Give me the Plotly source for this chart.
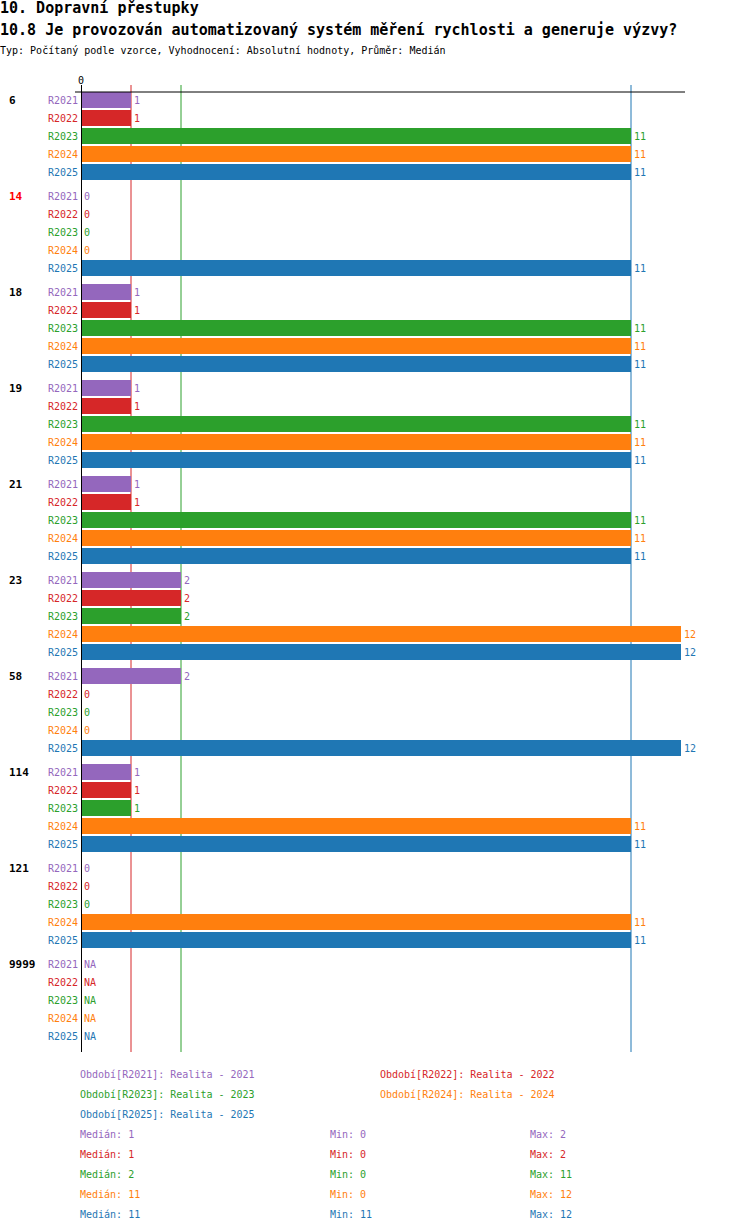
"""
10.8 - automatizovany system mereni rychlosti, grouped horizontal bars
"""
import plotly.graph_objects as go

groups = ["6", "14", "18", "19", "21", "23", "58", "114", "121", "9999"]
highlight = "14"

periods = ["R2021", "R2022", "R2023", "R2024", "R2025"]
period_names = ["Realita - 2021", "Realita - 2022", "Realita - 2023",
                "Realita - 2024", "Realita - 2025"]
colors = ["#9467bd", "#d62728", "#2ca02c", "#ff7f0e", "#1f77b4"]

r2021 = [1, 0, 1, 1, 1, 2, 2, 1, 0, None]
r2022 = [1, 0, 1, 1, 1, 2, 0, 1, 0, None]
r2023 = [11, 0, 11, 11, 11, 2, 0, 1, 0, None]
r2024 = [11, 0, 11, 11, 11, 12, 0, 11, 11, None]
r2025 = [11, 11, 11, 11, 11, 12, 12, 11, 11, None]
series = [r2021, r2022, r2023, r2024, r2025]

# layout in pixels
W, H = 750, 1232
L, R, T, B = 81, 65, 92, 180
PW, PH = W - L - R, H - T - B
XMAX = PW / 50.0  # 50 px per unit
ROW, GROUP = 18, 96
MONO = "DejaVu Sans Mono"


def px(x):
    return (x - L) / PW


def py(y):
    return 1 - (y - T) / PH


def median(vals):
    v = sorted(x for x in vals if x is not None)
    n = len(v)
    return v[n // 2] if n % 2 else (v[n // 2 - 1] + v[n // 2]) / 2


def note(x, y, text, xref="paper", yref="paper", xanchor="left", xshift=-2, **font):
    return dict(x=x, y=y, xref=xref, yref=yref, text=text, showarrow=False,
                xanchor=xanchor, yanchor="middle", xshift=xshift,
                font=dict(family=MONO, **font))


fig = go.Figure()
ann = []

for s, (name, vals, col) in enumerate(zip(periods, series, colors)):
    ys = [GROUP * g + ROW * s + 8 for g in range(len(groups))]
    xs = [v if v is not None else 0 for v in vals]
    fig.add_trace(go.Bar(
        x=xs, y=ys, orientation="h",
        width=16, marker=dict(color=col, line=dict(width=0)),
        name=name, showlegend=False, hoverinfo="skip"))
    for x, y, v in zip(xs, ys, vals):
        ann.append(note(x, y, str(v) if v is not None else "NA", "x", "y",
                        xshift=1, size=10, color=col))
        ann.append(note(0, y, name, "x", "y", "right", xshift=-1, size=10, color=col))

for g, lab in enumerate(groups):
    ann.append(note(px(9), GROUP * g + 8, "<b>%s</b>" % lab, "paper", "y", size=11,
                    color="#ff0000" if lab == highlight else "black"))

# median lines (the later series wins where medians coincide)
med_color = {}
for vals, col in zip(series, colors):
    med_color[median(vals)] = col
shapes = []
for m, col in med_color.items():
    shapes.append(dict(type="line", xref="x", yref="paper", x0=m, x1=m,
                       y0=0, y1=py(85), line=dict(color=col, width=1), layer="below"))
shapes.append(dict(type="line", xref="x", yref="paper", x0=0, x1=0,
                   y0=0, y1=py(85), line=dict(color="black", width=2)))
shapes.append(dict(type="line", xref="paper", yref="paper", x0=px(75), x1=1,
                   y0=1, y1=1, line=dict(color="black", width=1)))
ann.append(note(0, py(80), "0", "x", "paper", "center", xshift=0, size=10, color="black"))

# titles
titles = [("10. Dopravní přestupky", 8, 15, True),
          ("10.8 Je provozován automatizovaný systém měření rychlosti a generuje výzvy?", 30, 15, True),
          ("Typ: Počítaný podle vzorce, Vyhodnocení: Absolutní hodnoty, Průměr: Medián", 50, 10, False)]
for txt, y, size, bold in titles:
    ann.append(note(px(0), py(y), "<b>%s</b>" % txt if bold else txt,
                    size=size, color="black"))

# legend
leg_pos = [(80, 1074), (380, 1074), (80, 1094), (380, 1094), (80, 1114)]
for (x, y), p, nm, col in zip(leg_pos, periods, period_names, colors):
    ann.append(note(px(x), py(y), "Období[%s]: %s" % (p, nm), size=10, color=col))
for s, (vals, col) in enumerate(zip(series, colors)):
    v = [x for x in vals if x is not None]
    y = 1134 + 20 * s
    m = median(vals)
    for x, txt in [(80, "Medián: %g" % m), (330, "Min: %g" % min(v)), (530, "Max: %g" % max(v))]:
        ann.append(note(px(x), py(y), txt, size=10, color=col))

fig.update_layout(
    width=W, height=H, margin=dict(l=L, r=R, t=T, b=B),
    paper_bgcolor="white", plot_bgcolor="white",
    barmode="overlay", bargap=0,
    xaxis=dict(range=[0, XMAX], showgrid=False, zeroline=False,
               showticklabels=False, ticks=""),
    yaxis=dict(range=[PH, 0], showgrid=False, zeroline=False,
               showticklabels=False, ticks=""),
    shapes=shapes, annotations=ann)

fig.write_html("out.html", config={"displayModeBar": False},
               post_script="document.body.style.margin='0px';")
